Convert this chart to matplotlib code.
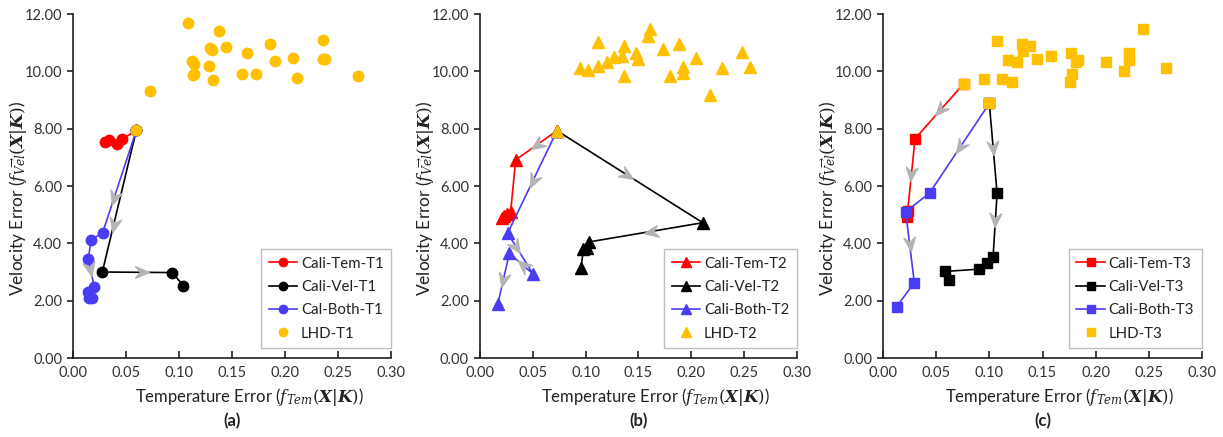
import numpy as np
import matplotlib
matplotlib.use("Agg")
import matplotlib.pyplot as plt
from matplotlib.path import Path
from matplotlib.markers import MarkerStyle
from matplotlib.transforms import Affine2D

plt.rcParams['font.family'] = ['Lato', 'DejaVu Sans']
plt.rcParams['mathtext.fontset'] = 'dejavuserif'

# ---------------- data: panel (a) ----------------
a_lhd_x = [0.0595, 0.0724, 0.1086, 0.138, 0.129, 0.131, 0.144, 0.186, 0.236, 0.164, 0.112,
           0.114, 0.128, 0.190, 0.2075, 0.236, 0.2377, 0.114, 0.113, 0.132, 0.159, 0.1725,
           0.211, 0.269]
a_lhd_y = [7.94, 9.31, 11.70, 11.42, 10.80, 10.74, 10.86, 10.95, 11.10, 10.64, 10.37,
           10.25, 10.20, 10.35, 10.46, 10.42, 10.44, 9.92, 9.86, 9.69, 9.91, 9.91,
           9.78, 9.82]
a_tem_x = [0.0595, 0.046, 0.041, 0.034, 0.030]
a_tem_y = [7.94, 7.63, 7.47, 7.60, 7.53]
a_vel_x = [0.0595, 0.0274, 0.0935, 0.104]
a_vel_y = [7.94, 3.00, 2.98, 2.52]
a_both_x = [0.0595, 0.0277, 0.0167, 0.0142, 0.0198, 0.0142, 0.0151, 0.0174]
a_both_y = [7.94, 4.37, 4.12, 3.45, 2.47, 2.31, 2.10, 2.08]

# ---------------- data: panel (b) ----------------
b_lhd_x = [0.0729, 0.1114, 0.161, 0.1588, 0.1367, 0.1887, 0.1474, 0.1493, 0.1736, 0.1342,
           0.1272, 0.120, 0.112, 0.1026, 0.0947, 0.1364, 0.1799, 0.192, 0.192, 0.2045,
           0.2295, 0.248, 0.2557, 0.218]
b_lhd_y = [7.93, 11.03, 11.46, 11.23, 10.89, 10.94, 10.63, 10.42, 10.77, 10.53,
           10.49, 10.33, 10.20, 10.03, 10.10, 9.84, 9.84, 10.14, 9.95, 10.47,
           10.10, 10.67, 10.16, 9.16]
b_tem_x = [0.0729, 0.0338, 0.0290, 0.0259, 0.0225, 0.0210]
b_tem_y = [7.93, 6.91, 5.10, 5.02, 4.95, 4.90]
b_vel_x = [0.0729, 0.211, 0.1035, 0.1016, 0.098, 0.0957]
b_vel_y = [7.93, 4.72, 4.05, 3.85, 3.80, 3.15]
b_both_x = [0.0729, 0.0262, 0.0505, 0.0278, 0.0168]
b_both_y = [7.93, 4.35, 2.92, 3.65, 1.88]

# ---------------- data: panel (c) ----------------
c_lhd_x = [0.0758, 0.0999, 0.245, 0.1072, 0.1304, 0.1383, 0.132, 0.1172, 0.1257, 0.1446,
           0.1578, 0.1769, 0.1838, 0.1813, 0.2096, 0.2313, 0.2313, 0.2271, 0.2664, 0.1781,
           0.1759, 0.0946, 0.1116, 0.1213]
c_lhd_y = [9.57, 8.88, 11.46, 11.07, 10.94, 10.88, 10.71, 10.38, 10.34, 10.44,
           10.53, 10.65, 10.39, 10.32, 10.34, 10.63, 10.39, 10.02, 10.12, 9.90,
           9.63, 9.72, 9.74, 9.62]
c_tem_x = [0.0758, 0.0299, 0.023, 0.022]
c_tem_y = [9.57, 7.65, 5.14, 4.93]
c_vel_x = [0.0999, 0.1072, 0.1034, 0.0974, 0.0905, 0.0584, 0.0616]
c_vel_y = [8.88, 5.74, 3.51, 3.32, 3.10, 3.02, 2.72]
c_both_x = [0.0999, 0.0437, 0.0211, 0.0292, 0.0126]
c_both_y = [8.88, 5.76, 5.10, 2.63, 1.79]

x_ticks = [0.00, 0.05, 0.10, 0.15, 0.20, 0.25, 0.30]
y_ticks = [0.00, 2.00, 4.00, 6.00, 8.00, 10.00, 12.00]

# direction arrows: (series, segment index, fraction along segment)
a_arrows = [('vel', 0, 0.67), ('both', 0, 0.66), ('vel', 1, 0.56), ('both', 3, 0.35)]
b_arrows = [('tem', 0, 0.49), ('vel', 0, 0.48), ('vel', 1, 0.46), ('both', 0, 0.49),
            ('both', 1, 0.33), ('both', 2, 0.45), ('both', 3, 0.53)]
c_arrows = [('tem', 0, 0.48), ('tem', 1, 0.49), ('both', 0, 0.49), ('both', 2, 0.45),
            ('vel', 0, 0.5), ('vel', 1, 0.42)]

RED = '#FF0000'
BLACK = '#000000'
BLUE = '#4A3CF5'
GOLD = '#FFC000'
GRAY = '#B4B4B4'

W, H = 1223, 437
fig = plt.figure(figsize=(W / 100, H / 100), dpi=100)

panels = [
    dict(left=73.3, right=391.0, marker='o', ms=7.5, sfx='T1', both_name='Cal-Both-T1',
         lhd=(a_lhd_x, a_lhd_y), tem=(a_tem_x, a_tem_y), vel=(a_vel_x, a_vel_y),
         both=(a_both_x, a_both_y), arrows=a_arrows, tag='(a)', ylab_x=18, xlab_dx=17),
    dict(left=480.0, right=796.7, marker='^', ms=8.5, sfx='T2', both_name='Cali-Both-T2',
         lhd=(b_lhd_x, b_lhd_y), tem=(b_tem_x, b_tem_y), vel=(b_vel_x, b_vel_y),
         both=(b_both_x, b_both_y), arrows=b_arrows, tag='(b)', ylab_x=425, xlab_dx=17),
    dict(left=883.3, right=1201.7, marker='s', ms=6.8, sfx='T3', both_name='Cali-Both-T3',
         lhd=(c_lhd_x, c_lhd_y), tem=(c_tem_x, c_tem_y), vel=(c_vel_x, c_vel_y),
         both=(c_both_x, c_both_y), arrows=c_arrows, tag='(c)', ylab_x=828, xlab_dx=17),
]

top_px, bot_px = 14.0, 358.0

arrow_path = Path([(0.5, 0.0), (-0.5, 0.42), (-0.15, 0.0), (-0.5, -0.42), (0.5, 0.0)],
                  [Path.MOVETO, Path.LINETO, Path.LINETO, Path.LINETO, Path.CLOSEPOLY])

xlab = r'Temperature Error ($f_{Tem}(\boldsymbol{X}|\boldsymbol{K})$)'
ylab = r'Velocity Error ($f_{\overrightarrow{Vel}}(\boldsymbol{X}|\boldsymbol{K})$)'

for p in panels:
    ax = fig.add_axes([p['left'] / W, (H - bot_px) / H, (p['right'] - p['left']) / W,
                       (bot_px - top_px) / H])
    ax.set_xlim(0, 0.30)
    ax.set_ylim(0, 12)
    ax.set_xticks(x_ticks)
    ax.set_yticks(y_ticks)
    ax.set_xticklabels([f'{v:.2f}' for v in x_ticks])
    ax.set_yticklabels([f'{v:.2f}' for v in y_ticks])
    for s in ['top', 'right']:
        ax.spines[s].set_visible(False)
    for s in ['left', 'bottom']:
        ax.spines[s].set_linewidth(1.2)
        ax.spines[s].set_color('#202020')
    ax.tick_params(axis='x', direction='in', length=5, width=1.2, labelsize=10.5, pad=6,
                   colors='#202020')
    ax.tick_params(axis='y', direction='out', length=4, width=1.2, labelsize=10.5, pad=4,
                   colors='#202020')
    for lbl in ax.get_xticklabels() + ax.get_yticklabels():
        lbl.set_color('#333333')

    m = p['marker']
    ms = p['ms']
    series = {'tem': p['tem'], 'vel': p['vel'], 'both': p['both']}
    h_tem, = ax.plot(*p['tem'], color=RED, marker=m, ms=ms, lw=1.2, zorder=3,
                     label='Cali-Tem-' + p['sfx'])
    h_vel, = ax.plot(*p['vel'], color=BLACK, marker=m, ms=ms, lw=1.2, zorder=3,
                     label='Cali-Vel-' + p['sfx'])
    h_both, = ax.plot(*p['both'], color=BLUE, marker=m, ms=ms, lw=1.2, zorder=3,
                      label=p['both_name'])
    h_lhd, = ax.plot(*p['lhd'], color=GOLD, marker=m, ms=ms, lw=0, zorder=5,
                     label='LHD-' + p['sfx'])

    for name, seg, frac in p['arrows']:
        xs, ys = series[name]
        x0, y0, x1, y1 = xs[seg], ys[seg], xs[seg + 1], ys[seg + 1]
        d0 = ax.transData.transform((x0, y0))
        d1 = ax.transData.transform((x1, y1))
        ang = np.degrees(np.arctan2(d1[1] - d0[1], d1[0] - d0[0]))
        mk = MarkerStyle(arrow_path, transform=Affine2D().rotate_deg(ang))
        ax.plot([x0 + frac * (x1 - x0)], [y0 + frac * (y1 - y0)], marker=mk, ms=10,
                color=GRAY, mec=GRAY, lw=0, zorder=4)

    leg = ax.legend(handles=[h_tem, h_vel, h_both, h_lhd], loc='lower right',
                    bbox_to_anchor=(1.0, 0.029), fontsize=10.8, frameon=True,
                    fancybox=False, framealpha=1, edgecolor='#BFBFBF',
                    handlelength=1.9, handletextpad=0.25, labelspacing=0.62,
                    borderpad=0.5, borderaxespad=0.0, markerscale=0.8)
    leg.get_frame().set_linewidth(1.0)
    for t in leg.get_texts():
        t.set_color('#222222')

    cx = (p['left'] + p['right']) / 2
    fig.text((cx + p['xlab_dx']) / W, (H - 397) / H, xlab, ha='center', va='center',
             fontsize=12, color='#222222')
    fig.text(cx / W, (H - 421) / H, p['tag'], ha='center', va='center', fontsize=12,
             fontweight='bold', color='#222222')
    fig.text(p['ylab_x'] / W, (H - 198) / H, ylab, ha='center', va='center',
             rotation=90, fontsize=12.5, color='#222222')

fig.savefig('out.png', dpi=100)
